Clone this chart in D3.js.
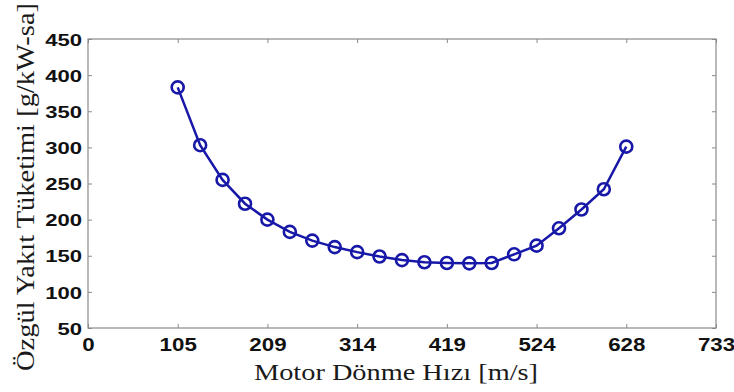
<!DOCTYPE html>
<html>
<head>
<meta charset="utf-8">
<script src="https://cdn.jsdelivr.net/npm/d3@7"></script>
<style>
  body { margin: 0; background: #fff; }
  svg { display: block; }
</style>
</head>
<body>
<div id="chart"></div>
<script>
// specific fuel consumption vs. engine speed
var speed = [104.7, 130.9, 157.1, 183.3, 209.4, 235.6, 261.8, 288.0, 314.2, 340.3, 366.5,
             392.7, 418.9, 445.1, 471.2, 497.4, 523.6, 549.8, 576.0, 602.1, 628.3];
var fuel = [383, 303, 255, 222, 200, 183, 171, 162, 155, 149, 144,
            141, 140, 139.5, 140, 152, 164, 188, 214, 242, 301];

var xTicks = [0, 104.72, 209.44, 314.16, 418.88, 523.6, 628.32, 733.04];
var xTickLabels = ["0", "105", "209", "314", "419", "524", "628", "733"];
var yTicks = [50, 100, 150, 200, 250, 300, 350, 400, 450];

var xTitle = "Motor Dönme Hızı [m/s]";
var yTitle = "Özgül Yakıt Tüketimi [g/kW-sa]";

var width = 734,
    height = 392,
    margin = {top: 39, right: 18, bottom: 64, left: 88};

var lineColor = "#1818a8",
    frameColor = "#8a8a8a";

var svg = d3.select("#chart").append("svg")
    .attr("width", width)
    .attr("height", height);

var x = d3.scaleLinear()
    .domain([0, 733.04])
    .range([margin.left, width - margin.right]);

var y = d3.scaleLinear()
    .domain([50, 450])
    .range([height - margin.bottom, margin.top]);

// frame (MATLAB style box)
svg.append("rect")
    .attr("x", x(0))
    .attr("y", y(450))
    .attr("width", x(733.04) - x(0))
    .attr("height", y(50) - y(450))
    .attr("fill", "none")
    .attr("stroke", frameColor)
    .attr("stroke-width", 1.2);

function styleAxis(g) {
    g.select(".domain").remove();
    g.selectAll(".tick line").attr("stroke", frameColor).attr("stroke-width", 1);
}

// bottom axis with labels
var gx = svg.append("g")
    .attr("transform", "translate(0," + y(50) + ")")
    .call(d3.axisBottom(x)
        .tickValues(xTicks)
        .tickSizeInner(-4)
        .tickSizeOuter(0)
        .tickPadding(0)
        .tickFormat(function(d, i) { return xTickLabels[i]; }))
    .call(styleAxis);

gx.selectAll(".tick text")
    .attr("y", 0)
    .attr("dy", null)
    .attr("transform", "translate(0,23) scale(1.24,1)")
    .style("font-family", "'Liberation Sans', Arial, sans-serif")
    .style("font-weight", "bold")
    .style("font-size", "18px")
    .attr("fill", "#111");

// left axis with labels
var gy = svg.append("g")
    .attr("transform", "translate(" + x(0) + ",0)")
    .call(d3.axisLeft(y)
        .tickValues(yTicks)
        .tickSizeInner(-4)
        .tickSizeOuter(0)
        .tickPadding(0)
        .tickFormat(d3.format("d")))
    .call(styleAxis);

gy.selectAll(".tick text")
    .attr("x", 0)
    .attr("dy", "0.36em")
    .attr("transform", "translate(-6,0) scale(1.3,1)")
    .style("font-family", "'Liberation Sans', Arial, sans-serif")
    .style("font-weight", "bold")
    .style("font-size", "17px")
    .attr("fill", "#111");

// top and right ticks, no labels
svg.append("g")
    .attr("transform", "translate(0," + y(450) + ")")
    .call(d3.axisTop(x).tickValues(xTicks).tickSizeInner(-4).tickSizeOuter(0).tickFormat(""))
    .call(styleAxis);

svg.append("g")
    .attr("transform", "translate(" + x(733.04) + ",0)")
    .call(d3.axisRight(y).tickValues(yTicks).tickSizeInner(-4).tickSizeOuter(0).tickFormat(""))
    .call(styleAxis);

// the curve
var pts = speed.map(function(s, i) { return [s, fuel[i]]; });

var line = d3.line()
    .x(function(d) { return x(d[0]); })
    .y(function(d) { return y(d[1]); });

svg.append("path")
    .datum(pts)
    .attr("d", line)
    .attr("fill", "none")
    .attr("stroke", lineColor)
    .attr("stroke-width", 2.5);

svg.selectAll("circle.marker")
    .data(pts)
    .enter().append("circle")
    .attr("class", "marker")
    .attr("cx", function(d) { return x(d[0]); })
    .attr("cy", function(d) { return y(d[1]); })
    .attr("r", 6)
    .attr("fill", "none")
    .attr("stroke", lineColor)
    .attr("stroke-width", 2.6);

// axis titles (serif)
svg.append("text")
    .attr("x", 396)
    .attr("y", 380)
    .attr("text-anchor", "middle")
    .attr("textLength", 284)
    .attr("lengthAdjust", "spacingAndGlyphs")
    .style("font-family", "'Liberation Serif', 'Times New Roman', serif")
    .style("font-size", "23px")
    .attr("fill", "#1a1a1a")
    .text(xTitle);

svg.append("text")
    .attr("transform", "translate(34,187) rotate(-90)")
    .attr("text-anchor", "middle")
    .attr("textLength", 368)
    .attr("lengthAdjust", "spacingAndGlyphs")
    .style("font-family", "'Liberation Serif', 'Times New Roman', serif")
    .style("font-size", "25px")
    .attr("fill", "#1a1a1a")
    .text(yTitle);
</script>
</body>
</html>
